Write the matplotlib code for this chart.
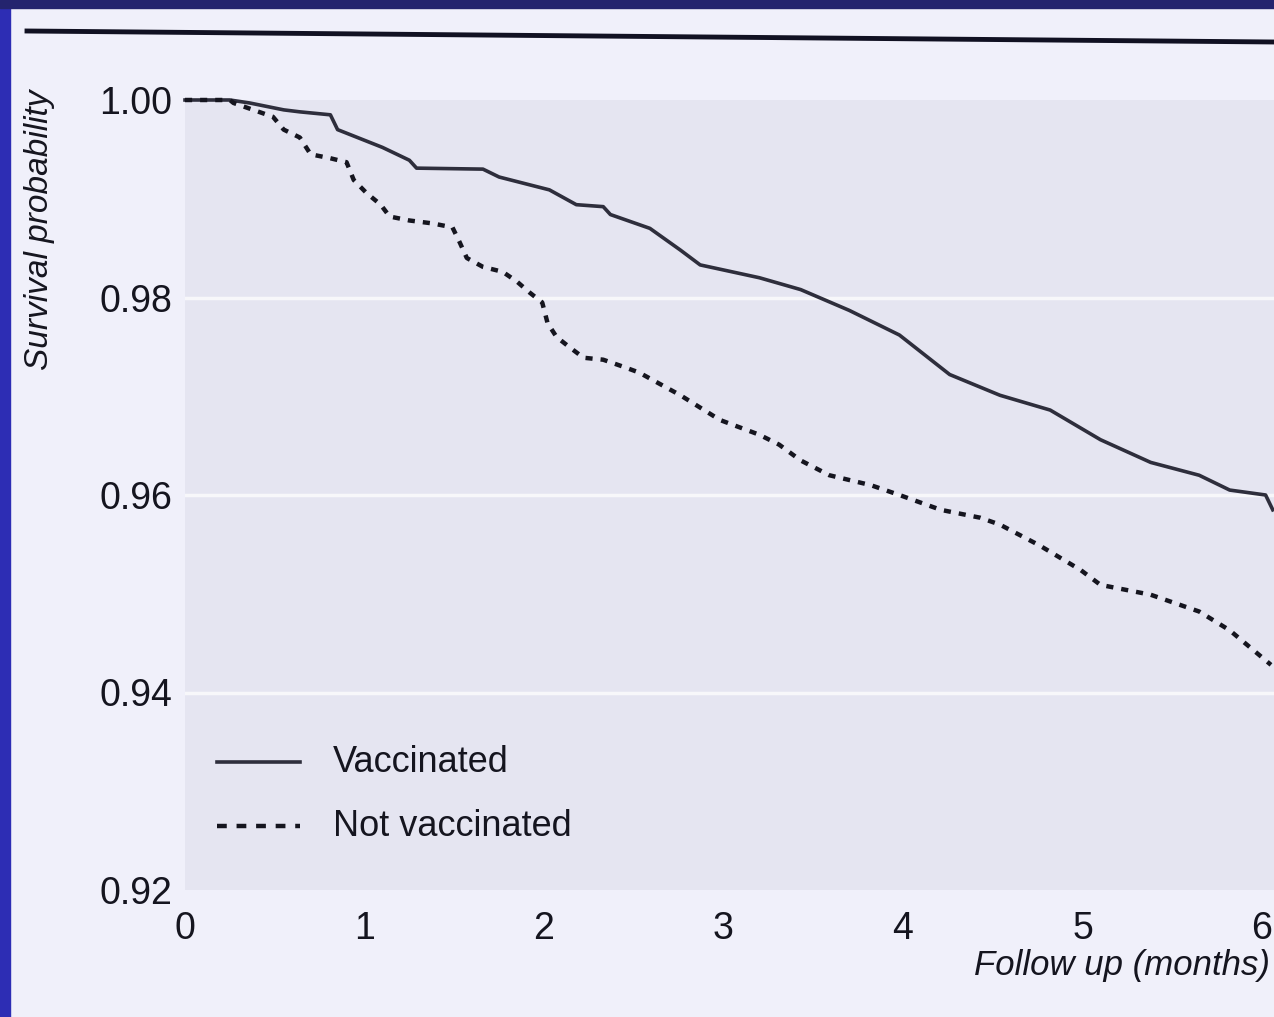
import matplotlib
matplotlib.use("Agg")
import matplotlib.pyplot as plt
from matplotlib.patches import Rectangle
from matplotlib.lines import Line2D

plt.rcParams['font.family'] = ['Liberation Sans', 'DejaVu Sans']

# Kaplan-Meier curves (months, survival)
vacc_t = [0.0, 0.25, 0.36, 0.55, 0.64, 0.81, 0.85, 1.10, 1.25, 1.29, 1.66, 1.75, 2.03, 2.18,
          2.33, 2.37, 2.59, 2.76, 2.87, 3.20, 3.43, 3.70, 3.98, 4.26, 4.54, 4.82, 5.10,
          5.38, 5.65, 5.82, 6.02, 6.06]
vacc_s = [1.0000, 1.0000, 0.9997, 0.9990, 0.9988, 0.9985, 0.9970, 0.9952, 0.9939, 0.9931,
          0.9930, 0.9922, 0.9909, 0.9894, 0.9892, 0.9884, 0.9870, 0.9848, 0.9833, 0.9820,
          0.9808, 0.9787, 0.9762, 0.9722, 0.9701, 0.9686, 0.9656, 0.9633, 0.9620, 0.9605,
          0.9600, 0.9585]

notv_t = [0.0, 0.25, 0.27, 0.38, 0.49, 0.55, 0.64, 0.70, 0.81, 0.90, 0.94, 1.01, 1.09, 1.14,
          1.25, 1.38, 1.49, 1.53, 1.57, 1.66, 1.77, 1.85, 1.92, 1.99, 2.02, 2.07, 2.14, 2.22,
          2.33, 2.44, 2.53, 2.76, 2.98, 3.20, 3.31, 3.43, 3.59, 3.82, 3.98, 4.21, 4.43, 4.54,
          4.76, 4.99, 5.10, 5.38, 5.65, 5.82, 6.05]
notv_s = [1.0000, 1.0000, 0.9997, 0.9990, 0.9983, 0.9970, 0.9962, 0.9945, 0.9941, 0.9937,
          0.9919, 0.9906, 0.9894, 0.9882, 0.9878, 0.9875, 0.9871, 0.9856, 0.9840, 0.9831,
          0.9826, 0.9816, 0.9805, 0.9795, 0.9774, 0.9760, 0.9750, 0.9739, 0.9737, 0.9730,
          0.9724, 0.9701, 0.9676, 0.9661, 0.9651, 0.9635, 0.9620, 0.9610, 0.9600, 0.9585,
          0.9577, 0.9570, 0.9549, 0.9524, 0.9509, 0.9499, 0.9482, 0.9463, 0.9428]

xticks = [0, 1, 2, 3, 4, 5, 6]
yticks = [0.92, 0.94, 0.96, 0.98, 1.00]
ytick_labels = ['0.92', '0.94', '0.96', '0.98', '1.00']

W, H = 1274, 1017
fig = plt.figure(figsize=(W / 100, H / 100), dpi=100)
fig.patch.set_facecolor('#f0f0fa')

# blue slide frame + black rule at the top
fig.add_artist(Rectangle((0, 0), 10 / W, 1, transform=fig.transFigure, color='#2d2db4', zorder=0))
fig.add_artist(Rectangle((0, 1 - 8 / H), 1, 8 / H, transform=fig.transFigure, color='#24246e', zorder=0))
fig.add_artist(Line2D([27 / W, 1], [1 - 31 / H, 1 - 42 / H], transform=fig.transFigure,
                      color='#111122', lw=3.5))

# axes: x=0 at px 185, 179.5 px per month; y 1.00 at px 100, 0.92 at px 890
left = 185 / W
ax = fig.add_axes([left, 1 - 890 / H, 1 - left, 790 / H])
ax.set_facecolor('#e5e5f1')
ax.set_xlim(0, (W - 185) / 179.5)
ax.set_ylim(0.92, 1.0)
for s in ax.spines.values():
    s.set_visible(False)

for yv in yticks[1:-1]:
    ax.axhline(yv, color='white', lw=2.5, alpha=0.7, zorder=1)

ax.plot(vacc_t, vacc_s, color='#2e2e3c', lw=2.6, ls='-', clip_on=False, zorder=3)
ax.plot(notv_t, notv_s, color='#15151f', lw=3.2, ls=(0, (1.6, 1.8)), clip_on=False, zorder=3)

ax.set_xticks(xticks)
ax.set_xticklabels([str(t) for t in xticks])
ax.set_yticks(yticks)
ax.set_yticklabels(ytick_labels)
ax.tick_params(axis='both', length=0, labelsize=27, colors='#15151f')
ax.tick_params(axis='x', pad=15)
ax.tick_params(axis='y', pad=9)

# legend drawn by hand to keep the print look
leg = [('-', 'Vaccinated', 0.93296), ('--', 'Not vaccinated', 0.92648)]
for ls, lab, yy in leg:
    if ls == '-':
        ax.plot([0.178, 0.641], [yy, yy], color='#2e2e3c', lw=2.6)
    else:
        ax.plot([0.178, 0.641], [yy, yy], color='#15151f', lw=3.2, ls=(0, (2.2, 2.2)))
    ax.text(0.825, yy, lab, fontsize=26, va='center', ha='left', color='#15151f')

fig.text(40 / W, 1 - 230 / H, 'Survival probability', rotation=90, style='italic',
         fontsize=24, ha='center', va='center', color='#15151f')
fig.text(1270 / W, 1 - 965 / H, 'Follow up (months)', style='italic',
         fontsize=25, ha='right', va='center', color='#15151f')

fig.savefig('out.png', dpi=100, facecolor=fig.get_facecolor())
